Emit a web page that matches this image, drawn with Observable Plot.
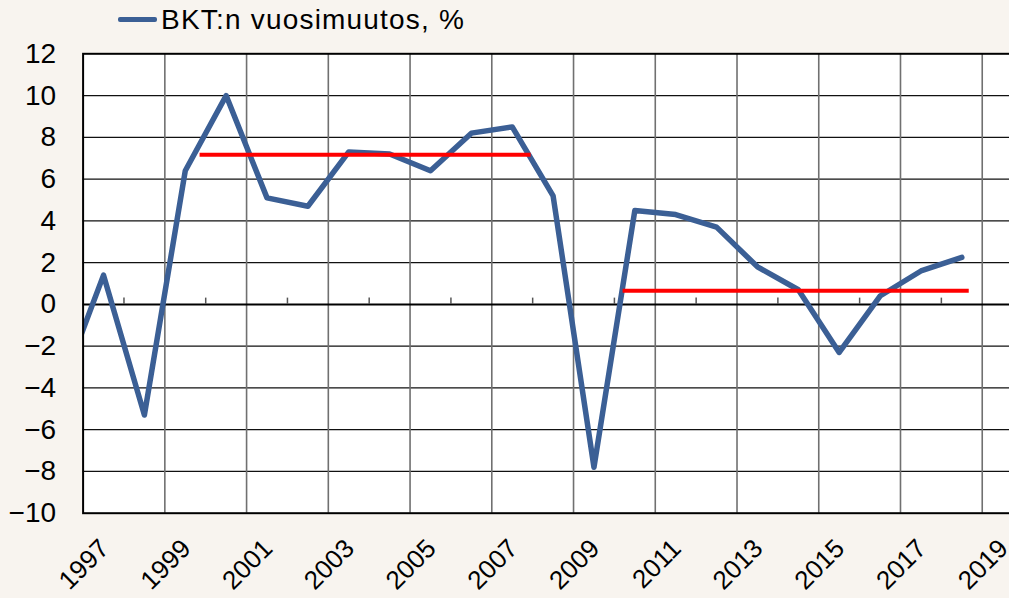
<!DOCTYPE html>
<html><head><meta charset="utf-8">
<script src="https://cdn.jsdelivr.net/npm/d3@7"></script>
<script src="https://cdn.jsdelivr.net/npm/@observablehq/plot@0.6"></script>
<style>
html,body{margin:0;padding:0;background:#f8f4ef;overflow:hidden;width:1009px;height:598px}
#legend{position:relative;height:40px;font-family:"Liberation Sans",Arial,sans-serif;}
#legend .sw{position:absolute;left:118px;top:17px;width:39px;height:4.5px;background:#3b5f95;border-radius:2px}
#legend .lb{position:absolute;left:161px;top:4px;font-size:28px;line-height:32px;color:#000;letter-spacing:1.2px;white-space:nowrap}
</style></head><body>
<div id="legend"><span class="sw"></span><span class="lb">BKT:n vuosimuutos, %</span></div>
<div id="chart"></div>
<script>
const years = [1996,1997,1998,1999,2000,2001,2002,2003,2004,2005,2006,2007,2008,2009,2010,2011,2012,2013,2014,2015,2016,2017,2018];
const growth = [-3.8,1.4,-5.3,6.4,10.0,5.1,4.7,7.3,7.2,6.4,8.2,8.5,5.2,-7.8,4.5,4.3,3.7,1.8,0.7,-2.3,0.4,1.6,2.25];
const avgStart = [1999.35, 2009.7];
const avgEnd = [2007.45, 2018.17];
const avgLevel = [7.17, 0.65];
const yTicks = [-10,-8,-6,-4,-2,0,2,4,6,8,10,12];
const gridY = [-8,-6,-4,-2,2,4,6,8,10];
const xLabels = [1997,1999,2001,2003,2005,2007,2009,2011,2013,2015,2017,2019];
const gridX = [1998.5,2000.5,2002.5,2004.5,2006.5,2008.5,2010.5,2012.5,2014.5,2016.5,2018.5];
const boundaryTicks = [1997.5,1999.5,2001.5,2003.5,2005.5,2007.5,2009.5,2011.5,2013.5,2015.5,2017.5];

const series = years.map((y, i) => ({year: y, value: growth[i]}));
const avgs = avgStart.map((s, i) => ({x1: s, x2: avgEnd[i], y: avgLevel[i]}));

const chart = Plot.plot({
  width: 1009, height: 558,
  marginLeft: 82.6, marginRight: -13.6, marginTop: 13.3, marginBottom: 85.3,
  style: {background: "transparent", fontFamily: "'Liberation Sans', Arial, sans-serif", fontSize: "28px", color: "#000", overflow: "visible"},
  x: {domain: [1996.5, 2019.5], axis: null},
  y: {domain: [-10, 12], axis: null},
  marks: [
    Plot.frame({fill: "white"}),
    Plot.ruleY(gridY, {stroke: "#111", strokeWidth: 1.3}),
    Plot.ruleX(gridX, {stroke: "#707070", strokeWidth: 1.6}),
    Plot.ruleY([0], {stroke: "#000", strokeWidth: 2}),
    Plot.ruleX(boundaryTicks, {y1: 0, y2: 0.3, stroke: "#555", strokeWidth: 1.5}),
    Plot.line(series, {x: "year", y: "value", stroke: "#3b5f95", strokeWidth: 5.5, strokeLinejoin: "round", strokeLinecap: "round", clip: true}),
    Plot.link(avgs, {x1: "x1", x2: "x2", y1: "y", y2: "y", stroke: "#ff0000", strokeWidth: 4}),
    Plot.frame({stroke: "#000", strokeWidth: 2}),
    Plot.axisY(yTicks, {tickSize: 0, tickPadding: 27, fontSize: 28}),
    Plot.text(xLabels, {x: d => d, text: d => String(d), frameAnchor: "bottom", rotate: -45, textAnchor: "end", lineAnchor: "middle", dx: 1, dy: 31, fontSize: 26, fill: "#000"})
  ]
});
document.getElementById("chart").appendChild(chart);
</script>
</body></html>
